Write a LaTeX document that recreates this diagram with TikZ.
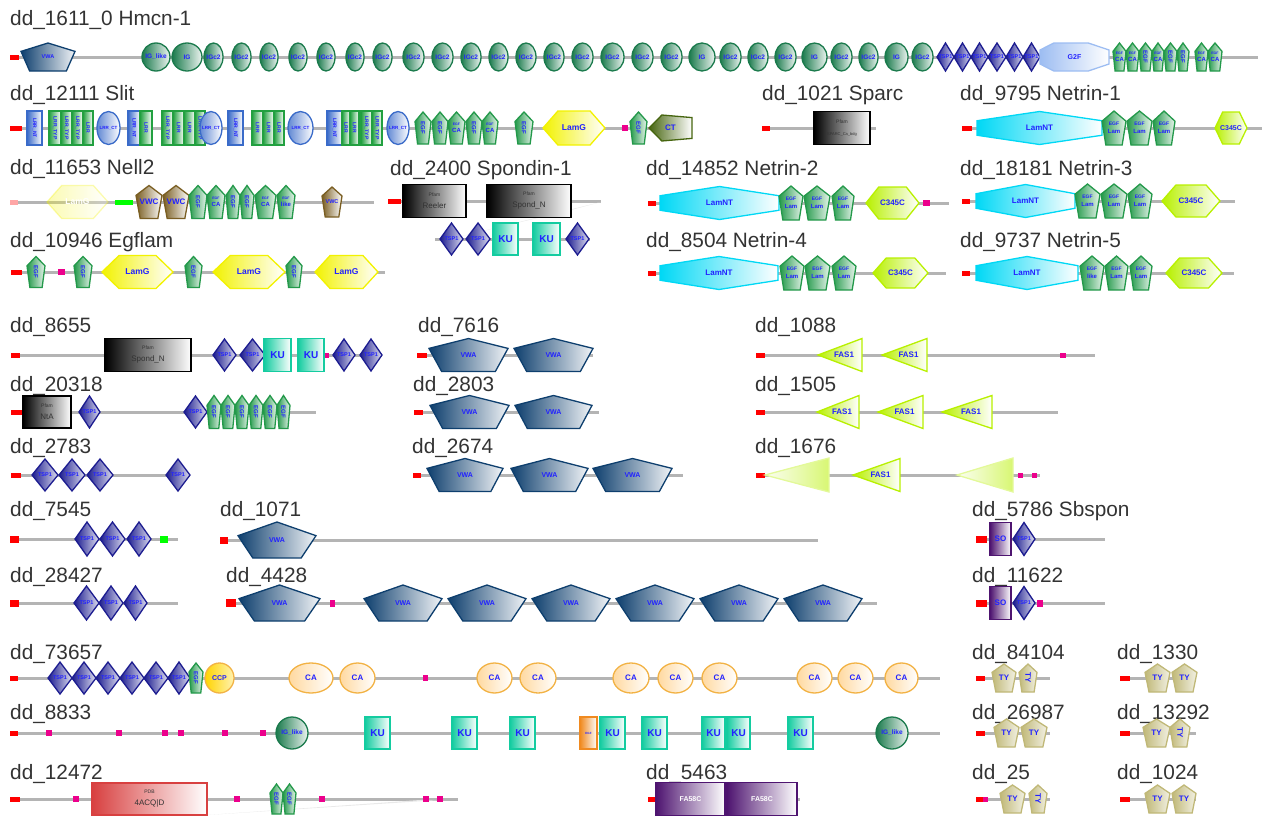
\documentclass[tikz,border=0pt]{standalone}
\usepackage{fontspec}
\setmainfont{Liberation Sans}

\definecolor{bbgray}{HTML}{B4B4B4}
\definecolor{ttlgray}{HTML}{333333}
\definecolor{lblblue}{HTML}{2222FF}
\definecolor{igreen}{HTML}{1A7A4C}
\definecolor{egreen}{HTML}{23994A}
\definecolor{vwablue}{HTML}{0E3F6E}
\definecolor{tspblue}{HTML}{1C1C90}
\definecolor{kuteal}{HTML}{14CCA0}
\definecolor{lamgyel}{HTML}{F2F200}
\definecolor{lamntcy}{HTML}{00D8F5}
\definecolor{cyelgrn}{HTML}{B8F000}
\definecolor{lrrblue}{HTML}{3A6BC9}
\definecolor{lrrgreen}{HTML}{22A040}
\definecolor{ctolive}{HTML}{46650F}
\definecolor{vwcbrown}{HTML}{7A5E22}
\definecolor{gtfblue}{HTML}{9DBDF2}
\definecolor{caorange}{HTML}{F2B244}
\definecolor{cafill}{HTML}{FFD9A0}
\definecolor{ccpyel}{HTML}{FFD400}
\definecolor{sopurple}{HTML}{4E1470}
\definecolor{tykhaki}{HTML}{C0B877}
\definecolor{pdbred}{HTML}{D84040}
\definecolor{egforange}{HTML}{F08A20}

% unit outlines, x from 0 to 1, y from -0.5 to 0.5
\def\pentpath{(0,-0.2)--(0.5,-0.5)--(1,-0.2)--(0.84,0.5)--(0.16,0.5)--cycle}
\def\rpentpath{(0,-0.12)--(0.5,-0.5)--(1,-0.12)--(0.81,0.5)--(0.19,0.5)--cycle}
\def\hexpath{(0,0)--(0.24,-0.5)--(0.76,-0.5)--(1,0)--(0.76,0.5)--(0.24,0.5)--cycle}
\def\ntpath{(0,-0.22)--(0.5,-0.5)--(1,-0.22)--(1,0.22)--(0.5,0.5)--(0,0.22)--cycle}
\def\octpath{(0,-0.25)--(0.2,-0.5)--(0.7,-0.5)--(1,-0.25)--(1,0.25)--(0.7,0.5)--(0.2,0.5)--(0,0.25)--cycle}
\def\diapath{(0,0)--(0.5,-0.5)--(1,0)--(0.5,0.5)--cycle}
\def\tripath{(0,0)--(1,-0.5)--(1,0.5)--cycle}
\def\ctpath{(0,0)--(0.3,-0.5)--(1,-0.4)--(1,0.4)--(0.3,0.5)--cycle}
\def\boxpath{(0,-0.5) rectangle (1,0.5)}
\def\ovalpath{(0.5,0) ellipse [x radius=0.5, y radius=0.5]}

\newcounter{dom}
% outline, type, x1, x2, y, height, label
\newcommand\dom[7]{%
  \stepcounter{dom}%
  \pgfmathsetmacro\domw{#4-#3}%
  \begin{scope}[shift={(#3,#5)},xscale=\domw,yscale=#6]
    \path[#2] #1;
    \node[#2 lbl] (d\arabic{dom}) at (0.5,0) {#7};
  \end{scope}}
% colour, x1, x2, y, height
\newcommand\sigbox[5]{\fill[#1] (#2,{#4-#5/2}) rectangle (#3,{#4+#5/2});}
% name, x1, x2, y
\newcommand\backbone[4]{%
  \coordinate (#1s) at (#2,#4);
  \coordinate (#1e) at (#3,#4);
  \draw[bb] (#1s) -- (#1e);}

\newcommand\rot[1]{\rotatebox{-90}{#1}}
\newcommand\sm{\fontsize{5.5}{6}\selectfont}
\newcommand\egfr{\rot{EGF}}
\newcommand\egfca{{\fontsize{3.5}{4}\selectfont EGF}\\[1pt]CA}
\newcommand\egflam{{\fontsize{5}{5}\selectfont EGF}\\[2pt]Lam}
\newcommand\pf[1]{{\fontsize{5}{6}\selectfont Pfam}\\[3pt]#1}

\tikzset{
  ttl/.style={anchor=base west, inner sep=0pt, text=ttlgray, font=\fontsize{20.8}{24}\selectfont},
  bb/.style={draw=bbgray, line width=3pt},
  dlbl/.style={text=lblblue, inner sep=0pt, align=center, font=\bfseries\fontsize{7}{8}\selectfont},
  domline/.style={line width=1.3pt},
  ig/.style={domline, draw=igreen, left color=igreen, right color=igreen!8},
  ig lbl/.style={dlbl, font=\bfseries\fontsize{6.5}{7}\selectfont},
  egf/.style={domline, draw=egreen, left color=egreen, right color=egreen!10},
  egf lbl/.style={dlbl, font=\bfseries\fontsize{6}{6}\selectfont},
  vwa/.style={domline, draw=vwablue, left color=vwablue, right color=vwablue!6},
  vwa lbl/.style={dlbl},
  tsp/.style={domline, draw=tspblue, left color=tspblue, right color=tspblue!15},
  tsp lbl/.style={dlbl, font=\bfseries\fontsize{5.5}{6}\selectfont},
  gtf/.style={domline, draw=gtfblue, left color=gtfblue, right color=white},
  gtf lbl/.style={dlbl},
  lrrnt/.style={domline, draw=lrrblue, left color=lrrblue, right color=white},
  lrrnt lbl/.style={dlbl, font=\bfseries\fontsize{5}{5}\selectfont},
  lrr/.style={domline, draw=lrrgreen, left color=lrrgreen, right color=white},
  lrr lbl/.style={dlbl, font=\bfseries\fontsize{5}{5}\selectfont},
  lrrct/.style={domline, draw=lrrblue, left color=lrrblue!80, right color=white},
  lrrct lbl/.style={dlbl, font=\bfseries\fontsize{4.5}{5}\selectfont},
  lamg/.style={domline, draw=lamgyel, left color=lamgyel, right color=white},
  lamg lbl/.style={dlbl, font=\bfseries\fontsize{8.5}{9}\selectfont},
  lamgf/.style={lamg, opacity=0.3},
  lamgf lbl/.style={lamg lbl, text=white},
  ct/.style={domline, draw=ctolive, left color=ctolive, right color=white},
  ct lbl/.style={dlbl, font=\bfseries\fontsize{8}{9}\selectfont},
  pfam/.style={domline, draw=black, left color=black, right color=white},
  pfam lbl/.style={inner sep=0pt, align=center, text=black!80, font=\fontsize{8}{9}\selectfont},
  lamnt/.style={domline, draw=lamntcy, left color=lamntcy, right color=white},
  lamnt lbl/.style={dlbl, font=\bfseries\fontsize{8}{9}\selectfont},
  chex/.style={domline, draw=cyelgrn, left color=cyelgrn, right color=white},
  chex lbl/.style={dlbl, font=\bfseries\fontsize{8}{9}\selectfont},
  vwc/.style={domline, draw=vwcbrown, left color=vwcbrown, right color=white},
  vwc lbl/.style={dlbl, font=\bfseries\fontsize{8}{9}\selectfont},
  ku/.style={domline, draw=kuteal, left color=kuteal, right color=white},
  ku lbl/.style={dlbl, font=\bfseries\fontsize{10}{11}\selectfont},
  fas/.style={domline, draw=cyelgrn, left color=cyelgrn, right color=white},
  fas lbl/.style={dlbl, font=\bfseries\fontsize{8}{9}\selectfont, xshift=4pt},
  fasf/.style={domline, draw=cyelgrn!40, left color=cyelgrn!5, right color=cyelgrn!55},
  fasf lbl/.style={dlbl},
  so/.style={domline, draw=sopurple, left color=sopurple, right color=white},
  so lbl/.style={dlbl, font=\bfseries\fontsize{8}{9}\selectfont},
  fac/.style={domline, draw=sopurple, left color=sopurple, right color=white},
  fac lbl/.style={dlbl, text=white, font=\bfseries\fontsize{7}{8}\selectfont},
  ca/.style={domline, draw=caorange, left color=cafill, right color=white},
  ca lbl/.style={dlbl, font=\bfseries\fontsize{8}{9}\selectfont},
  ccp/.style={domline, draw=caorange, left color=ccpyel, right color=ccpyel!30},
  ccp lbl/.style={dlbl, font=\bfseries\fontsize{7}{8}\selectfont},
  ty/.style={domline, draw=tykhaki, left color=tykhaki, right color=tykhaki!20},
  ty lbl/.style={dlbl, font=\bfseries\fontsize{8}{9}\selectfont},
  pdb/.style={domline, draw=pdbred, left color=pdbred, right color=white},
  pdb lbl/.style={inner sep=0pt, align=center, text=black!80, font=\fontsize{8}{9}\selectfont},
  eor/.style={domline, draw=egforange, left color=egforange, right color=white},
  eor lbl/.style={dlbl, font=\bfseries\fontsize{3}{3.5}\selectfont}
}

\begin{document}
\begin{tikzpicture}[x=1pt,y=-1pt]
\useasboundingbox (0,0) rectangle (1262,819);

% titles
\node[ttl] (t1) at (10,25) {dd\_1611\_0 Hmcn-1};
\node[ttl] (t2) at (10,100) {dd\_12111 Slit};
\node[ttl] (t3) at (762,100) {dd\_1021 Sparc};
\node[ttl] (t4) at (960,100) {dd\_9795 Netrin-1};
\node[ttl] (t5) at (10,174) {dd\_11653 Nell2};
\node[ttl] (t6) at (390,175) {dd\_2400 Spondin-1};
\node[ttl] (t7) at (646,175) {dd\_14852 Netrin-2};
\node[ttl] (t8) at (960,175) {dd\_18181 Netrin-3};
\node[ttl] (t9) at (10,247) {dd\_10946 Egflam};
\node[ttl] (t10) at (646,247) {dd\_8504 Netrin-4};
\node[ttl] (t11) at (960,247) {dd\_9737 Netrin-5};
\node[ttl] (t12) at (10,332) {dd\_8655};
\node[ttl] (t13) at (418,332) {dd\_7616};
\node[ttl] (t14) at (755,332) {dd\_1088};
\node[ttl] (t15) at (10,391) {dd\_20318};
\node[ttl] (t16) at (413,391) {dd\_2803};
\node[ttl] (t17) at (755,391) {dd\_1505};
\node[ttl] (t18) at (10,453) {dd\_2783};
\node[ttl] (t19) at (412,453) {dd\_2674};
\node[ttl] (t20) at (755,453) {dd\_1676};
\node[ttl] (t21) at (10,516) {dd\_7545};
\node[ttl] (t22) at (220,516) {dd\_1071};
\node[ttl] (t23) at (972,516) {dd\_5786 Sbspon};
\node[ttl] (t24) at (10,582) {dd\_28427};
\node[ttl] (t25) at (226,582) {dd\_4428};
\node[ttl] (t26) at (972,582) {dd\_11622};
\node[ttl] (t27) at (10,659) {dd\_73657};
\node[ttl] (t28) at (972,659) {dd\_84104};
\node[ttl] (t29) at (1117,659) {dd\_1330};
\node[ttl] (t30) at (10,719) {dd\_8833};
\node[ttl] (t31) at (972,719) {dd\_26987};
\node[ttl] (t32) at (1117,719) {dd\_13292};
\node[ttl] (t33) at (10,779) {dd\_12472};
\node[ttl] (t34) at (646,779) {dd\_5463};
\node[ttl] (t35) at (972,779) {dd\_25};
\node[ttl] (t36) at (1117,779) {dd\_1024};

% Hmcn-1
\backbone{p1}{10}{1258}{57}
\sigbox{red}{10}{19}{57}{5}
\dom\pentpath{vwa}{21}{75}{57}{28}{\sm VWA}
\foreach \a/\b/\t in {142/170/IG\_like,172/202/IG,204/223/IGc2,232/251/IGc2,260/278/IGc2,289/307/IGc2,
  317/335/IGc2,346/364/IGc2,373/392/IGc2,403/424/IGc2,432/453/IGc2,461/481/IGc2,489/508/IGc2,
  516/536/IGc2,544/564/IGc2,572/593/IGc2,601/624/IGc2,632/653/IGc2,661/682/IGc2,689/715/IG,
  720/741/IGc2,748/768/IGc2,775/796/IGc2,802/827/IG,831/852/IGc2,859/878/IGc2,885/908/IG,912/933/IGc2}
  {\dom\ovalpath{ig}{\a}{\b}{57}{28}{\t}}
\foreach \a/\b in {937/954,954/971,971/988,988/1006,1006/1023,1023/1040}
  {\dom\diapath{tsp}{\a}{\b}{57}{28}{TSP1}}
\dom\octpath{gtf}{1040}{1109}{57}{28}{G2F}
\foreach \a/\b/\t in {1113/1126/\egfca,1126/1139/\egfca,1139/1152/\egfr,1152/1164/\egfca,
  1164/1177/\egfr,1177/1189/\egfr,1195/1208/\egfca,1208/1222/\egfca}
  {\dom\pentpath{egf}{\a}{\b}{57}{28}{\t}}

% Slit
\backbone{p2}{10}{692}{128}
\sigbox{red}{10}{22}{128}{5}
\foreach \a/\b in {27/42,128/140,228/243,327/342}
  {\dom\boxpath{lrrnt}{\a}{\b}{128}{34}{\rot{LRR\_NT}}}
\foreach \a/\b/\t in {49/61/LRR\_TYP,61/72/LRR\_TYP,72/83/LRR\_TYP,83/93/LRR,140/152/LRR,
  162/173/LRR\_TYP,173/184/LRR,184/195/LRR,195/205/LRR\_TYP,252/263/LRR,263/274/LRR,274/284/LRR,
  342/350/LRR,350/359/LRR,361/372/LRR\_TYP,372/382/LRR\_TYP}
  {\dom\boxpath{lrr}{\a}{\b}{128}{34}{\rot{\t}}}
\foreach \a/\b in {97/120,200/222,288/313,387/409}
  {\dom\ovalpath{lrrct}{\a}{\b}{128}{33}{LRR\_CT}}
\foreach \a/\b/\t in {415/431/\egfr,432/448/\egfr,448/465/\egfca,466/482/\egfr,482/498/\egfca,515/533/\egfr}
  {\dom\pentpath{egf}{\a}{\b}{128}{32}{\t}}
\dom\hexpath{lamg}{543}{605}{128}{34}{LamG}
\sigbox{magenta}{622}{628}{128}{6}
\dom\pentpath{egf}{630}{647}{128}{32}{\egfr}
\dom\ctpath{ct}{649}{692}{128}{26}{CT}

% Sparc
\backbone{p3}{762}{876}{128}
\sigbox{red}{762}{770}{128}{5}
\dom\boxpath{pfam}{814}{870}{128}{33}{\pf{\fontsize{4}{5}\selectfont SPARC\_Ca\_bdg}}

% Netrin-1
\backbone{p4}{962}{1262}{128}
\sigbox{red}{962}{972}{128}{5}
\dom\ntpath{lamnt}{977}{1102}{128}{33}{LamNT}
\foreach \a/\b in {1102/1126,1127/1152,1153/1175}
  {\dom\pentpath{egf}{\a}{\b}{128}{34}{\egflam}}
\dom\hexpath{chex}{1215}{1247}{128}{32}{\fontsize{7}{8}\selectfont C345C}

% Nell2
\backbone{p5}{10}{374}{202}
\sigbox{red!35}{10}{18}{202}{5}
\dom\hexpath{lamgf}{47}{108}{202}{33}{LamG}
\sigbox{green}{115}{133}{202}{5}
\dom\pentpath{vwc}{136}{162}{202}{33}{VWC}
\dom\pentpath{vwc}{163}{189}{202}{33}{VWC}
\foreach \a/\b/\t in {189/207/\egfr,207/225/\egfca,226/240/\egfr,240/254/\egfr,255/276/\egfca,
  277/295/{{\fontsize{3.5}{4}\selectfont EGF}\\[1pt]like}}
  {\dom\pentpath{egf}{\a}{\b}{202}{33}{\t}}
\dom\pentpath{vwc}{322}{342}{202}{30}{\sm VWC}

% Spondin-1
\backbone{p6}{401}{601}{201}
\sigbox{red}{388}{401}{201}{5}
\fill[bbgray!30] (571,210) -- (601,202) -- (458,237) -- cycle;
\dom\boxpath{pfam}{403}{466}{201}{33}{\pf{Reeler}}
\dom\boxpath{pfam}{487}{571}{201}{33}{\pf{Spond\_N}}
\backbone{p7}{435}{590}{239}
\dom\diapath{tsp}{440}{463}{239}{32}{TSP1}
\dom\diapath{tsp}{466}{490}{239}{32}{TSP1}
\dom\boxpath{ku}{493}{518}{239}{32}{KU}
\dom\boxpath{ku}{533}{560}{239}{32}{KU}
\dom\diapath{tsp}{566}{589}{239}{32}{TSP1}

% Netrin-2 / Netrin-3
\backbone{p8}{648}{949}{203}
\sigbox{red}{648}{656}{203}{5}
\dom\ntpath{lamnt}{660}{779}{203}{33}{LamNT}
\foreach \a/\b in {779/803,804/830,832/854}
  {\dom\pentpath{egf}{\a}{\b}{203}{34}{\egflam}}
\dom\hexpath{chex}{866}{919}{203}{32}{C345C}
\sigbox{magenta}{923}{930}{203}{6}
\backbone{p9}{962}{1235}{201}
\sigbox{red}{962}{970}{201}{5}
\dom\ntpath{lamnt}{976}{1075}{201}{33}{LamNT}
\foreach \a/\b in {1075/1100,1101/1127,1128/1152}
  {\dom\pentpath{egf}{\a}{\b}{201}{34}{\egflam}}
\dom\hexpath{chex}{1162}{1220}{201}{32}{C345C}

% Egflam
\backbone{p10}{11}{385}{272}
\sigbox{red}{11}{22}{272}{5}
\sigbox{magenta}{58}{65}{272}{6}
\foreach \a/\b in {27/45,74/92,185/202,286/302}
  {\dom\pentpath{egf}{\a}{\b}{272}{31}{\egfr}}
\foreach \a/\b in {102/173,213/285,315/378}
  {\dom\hexpath{lamg}{\a}{\b}{272}{33}{LamG}}

% Netrin-4 / Netrin-5
\backbone{p11}{648}{946}{273}
\sigbox{red}{648}{656}{273}{5}
\dom\ntpath{lamnt}{660}{778}{273}{33}{LamNT}
\foreach \a/\b in {780/804,805/830,832/856}
  {\dom\pentpath{egf}{\a}{\b}{273}{34}{\egflam}}
\dom\hexpath{chex}{873}{928}{273}{30}{C345C}
\backbone{p12}{962}{1234}{273}
\sigbox{red}{962}{970}{273}{5}
\dom\ntpath{lamnt}{976}{1078}{273}{33}{LamNT}
\dom\pentpath{egf}{1080}{1104}{273}{34}{{\fontsize{5}{5}\selectfont EGF}\\[2pt]like}
\dom\pentpath{egf}{1105}{1128}{273}{34}{\egflam}
\dom\pentpath{egf}{1130}{1152}{273}{34}{\egflam}
\dom\hexpath{chex}{1166}{1222}{273}{30}{C345C}

% dd_8655, dd_20318, dd_2783
\backbone{p13}{11}{382}{355}
\sigbox{red}{11}{20}{355}{5}
\dom\boxpath{pfam}{105}{191}{355}{33}{\pf{Spond\_N}}
\foreach \a/\b in {213/236,240/265,333/355,360/382}
  {\dom\diapath{tsp}{\a}{\b}{355}{32}{TSP1}}
\dom\boxpath{ku}{264}{291}{355}{33}{KU}
\dom\boxpath{ku}{298}{324}{355}{33}{KU}
\sigbox{magenta}{325}{329}{355}{5}
\backbone{p14}{11}{316}{412}
\sigbox{red}{11}{23}{412}{5}
\dom\boxpath{pfam}{23}{71}{412}{32}{\pf{NtA}}
\dom\diapath{tsp}{79}{100}{412}{32}{TSP1}
\dom\diapath{tsp}{184}{207}{412}{32}{TSP1}
\foreach \a/\b in {207/221,221/235,235/249,249/263,263/277,277/290}
  {\dom\pentpath{egf}{\a}{\b}{412}{33}{\egfr}}
\backbone{p15}{11}{190}{475}
\sigbox{red}{11}{21}{475}{5}
\foreach \a/\b in {32/58,59/85,87/113,166/190}
  {\dom\diapath{tsp}{\a}{\b}{475}{32}{TSP1}}

% dd_7616, dd_2803, dd_2674
\backbone{p16}{417}{593}{355}
\sigbox{red}{417}{427}{355}{5}
\dom\pentpath{vwa}{429}{508}{355}{33}{VWA}
\dom\pentpath{vwa}{514}{593}{355}{33}{VWA}
\backbone{p17}{414}{599}{412}
\sigbox{red}{414}{423}{412}{5}
\dom\pentpath{vwa}{430}{509}{412}{33}{VWA}
\dom\pentpath{vwa}{515}{592}{412}{33}{VWA}
\backbone{p18}{413}{683}{475}
\sigbox{red}{413}{421}{475}{5}
\foreach \a/\b in {427/503,511/588,593/672}
  {\dom\pentpath{vwa}{\a}{\b}{475}{33}{VWA}}

% dd_1088, dd_1505, dd_1676
\backbone{p19}{756}{1095}{355}
\sigbox{red}{756}{765}{355}{5}
\dom\tripath{fas}{818}{862}{355}{33}{FAS1}
\dom\tripath{fas}{882}{927}{355}{33}{FAS1}
\sigbox{magenta}{1060}{1066}{355}{5}
\backbone{p20}{756}{1058}{412}
\sigbox{red}{756}{765}{412}{5}
\foreach \a/\b in {817/859,878/923,942/992}
  {\dom\tripath{fas}{\a}{\b}{412}{33}{FAS1}}
\backbone{p21}{756}{1040}{475}
\sigbox{red}{756}{765}{475}{5}
\dom\tripath{fasf}{765}{829}{475}{34}{}
\dom\tripath{fas}{853}{900}{475}{33}{FAS1}
\dom\tripath{fasf}{957}{1013}{475}{34}{}
\sigbox{magenta}{1018}{1023}{475}{5}
\sigbox{magenta}{1032}{1037}{475}{5}

% dd_7545, dd_28427
\backbone{p22}{10}{178}{539}
\sigbox{red}{10}{19}{539}{7}
\foreach \a/\b in {75/99,100/125,127/151}
  {\dom\diapath{tsp}{\a}{\b}{539}{34}{TSP1}}
\sigbox{green}{160}{168}{539}{7}
\backbone{p23}{10}{178}{603}
\sigbox{red}{10}{19}{603}{7}
\foreach \a/\b in {74/99,99/123,124/147}
  {\dom\diapath{tsp}{\a}{\b}{603}{34}{TSP1}}

% dd_1071, dd_4428
\backbone{p24}{220}{818}{540}
\sigbox{red}{220}{228}{540}{7}
\dom\rpentpath{vwa}{238}{316}{540}{36}{VWA}
\backbone{p25}{226}{877}{603}
\sigbox{red}{226}{236}{603}{8}
\sigbox{magenta}{330}{335}{603}{7}
\foreach \a/\b in {239/320,364/442,448/526,532/610,616/694,700/778,784/862}
  {\dom\rpentpath{vwa}{\a}{\b}{603}{36}{VWA}}

% dd_5786 Sbspon, dd_11622
\backbone{p26}{976}{1105}{539}
\sigbox{red}{976}{987}{539}{7}
\dom\boxpath{so}{990}{1011}{539}{33}{SO}
\dom\diapath{tsp}{1013}{1035}{539}{33}{TSP1}
\backbone{p27}{976}{1105}{603}
\sigbox{red}{976}{987}{603}{7}
\dom\boxpath{so}{990}{1011}{603}{33}{SO}
\dom\diapath{tsp}{1013}{1035}{603}{33}{TSP1}
\sigbox{magenta}{1037}{1043}{603}{7}

% dd_73657
\backbone{p28}{10}{940}{678}
\sigbox{red}{10}{18}{678}{5}
\foreach \a/\b in {48/72,72/96,96/120,120/144,144/168,168/190}
  {\dom\diapath{tsp}{\a}{\b}{678}{32}{TSP1}}
\dom\pentpath{egf}{189}{203}{678}{30}{\egfr}
\dom\ovalpath{ccp}{205}{234}{678}{30}{CCP}
\sigbox{magenta}{423}{428}{678}{6}
\foreach \a/\b in {289/333,340/375,477/512,520/556,613/649,658/693,702/737,797/832,838/873,885/918}
  {\dom\ovalpath{ca}{\a}{\b}{678}{30}{CA}}

% dd_8833
\backbone{p29}{10}{940}{733}
\sigbox{red}{10}{18}{733}{5}
\foreach \a in {46,116,162,178,222,260}
  {\sigbox{magenta}{\a}{\a+6}{733}{6}}
\dom\ovalpath{ig}{276}{308}{733}{32}{IG\_like}
\dom\ovalpath{ig}{876}{908}{733}{32}{IG\_like}
\foreach \a/\b in {365/390,452/477,510/535,600/625,642/667,702/725,727/750,788/813}
  {\dom\boxpath{ku}{\a}{\b}{733}{32}{KU}}
\dom\boxpath{eor}{580}{597}{733}{32}{EGF}

% dd_12472
\backbone{p30}{10}{458}{799}
\sigbox{red}{10}{20}{799}{5}
\fill[bbgray!30] (207,815) -- (420,800) -- (440,800) -- cycle;
\dom\boxpath{pdb}{92}{207}{799}{32}{{\fontsize{5}{6}\selectfont PDB}\\[3pt]4ACQ|D}
\foreach \a in {73,234,319,423,437}
  {\sigbox{magenta}{\a}{\a+6}{799}{6}}
\dom\pentpath{egf}{270}{283}{799}{30}{\egfr}
\dom\pentpath{egf}{283}{296}{799}{30}{\egfr}

% dd_5463
\backbone{p31}{648}{800}{799}
\sigbox{red}{648}{656}{799}{5}
\dom\boxpath{fac}{656}{725}{799}{33}{FA58C}
\dom\boxpath{fac}{727}{797}{799}{33}{FA58C}

% TY proteins
\backbone{p32}{976}{1050}{678}
\sigbox{red}{976}{985}{678}{5}
\dom\pentpath{ty}{992}{1016}{678}{28}{TY}
\dom\pentpath{ty}{1019}{1037}{678}{28}{\rot{TY}}
\backbone{p33}{1120}{1196}{678}
\sigbox{red}{1120}{1130}{678}{5}
\dom\pentpath{ty}{1145}{1170}{678}{28}{TY}
\dom\pentpath{ty}{1172}{1197}{678}{28}{TY}
\backbone{p34}{976}{1050}{733}
\sigbox{red}{976}{985}{733}{5}
\dom\pentpath{ty}{994}{1019}{733}{28}{TY}
\dom\pentpath{ty}{1021}{1047}{733}{28}{TY}
\backbone{p35}{1120}{1196}{733}
\sigbox{red}{1120}{1130}{733}{5}
\dom\pentpath{ty}{1143}{1170}{733}{28}{TY}
\dom\pentpath{ty}{1170}{1190}{733}{28}{\rot{TY}}
\backbone{p36}{976}{1050}{799}
\sigbox{red}{976}{985}{799}{5}
\sigbox{magenta}{983}{988}{799}{5}
\dom\pentpath{ty}{1000}{1025}{799}{28}{TY}
\dom\pentpath{ty}{1029}{1047}{799}{28}{\rot{TY}}
\backbone{p37}{1120}{1196}{799}
\sigbox{red}{1120}{1130}{799}{5}
\dom\pentpath{ty}{1145}{1170}{799}{28}{TY}
\dom\pentpath{ty}{1172}{1196}{799}{28}{TY}
\end{tikzpicture}
\end{document}
